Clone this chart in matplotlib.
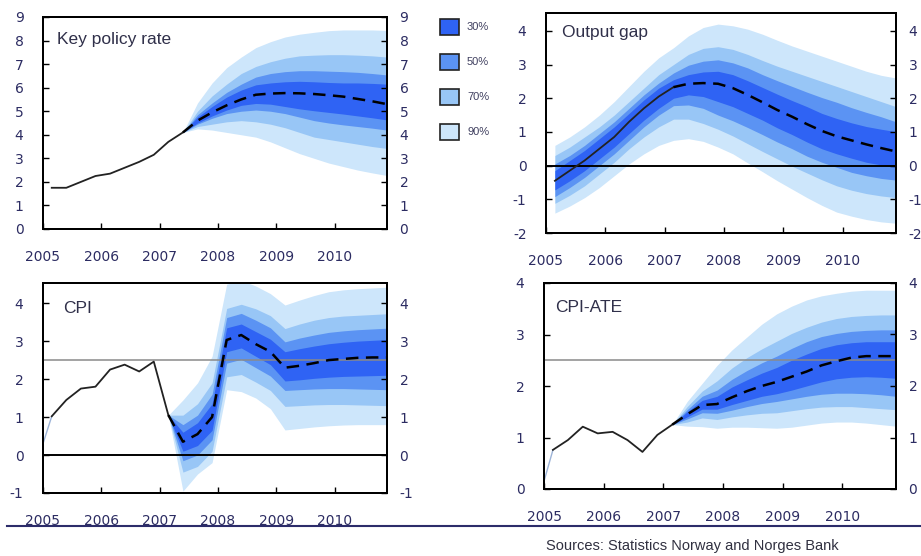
import numpy as np
import matplotlib
matplotlib.use("Agg")
import matplotlib.pyplot as plt
from matplotlib.patches import Rectangle

plt.rcParams['font.family'] = ['DejaVu Sans']
plt.rcParams['axes.unicode_minus'] = False

# ---------------- data ----------------
years = [2005, 2006, 2007, 2008, 2009, 2010]
band_labels = ["30%", "50%", "70%", "90%"]

# Key policy rate: history 2005Q1-2007Q2, forecast 2007Q2-2010Q4
rate_hist = [1.75, 1.75, 2.0, 2.25, 2.35, 2.6, 2.85, 3.15, 3.7, 4.1]
rate_fc = [4.1, 4.6, 4.95, 5.25, 5.5, 5.7, 5.75, 5.77, 5.76, 5.73, 5.68, 5.62, 5.52, 5.42, 5.3]
rate_u90 = [4.1, 5.35, 6.2, 6.85, 7.3, 7.7, 7.95, 8.15, 8.27, 8.35, 8.42, 8.45, 8.45, 8.45, 8.43]
rate_u70 = [4.1, 5.0, 5.65, 6.15, 6.6, 6.9, 7.1, 7.25, 7.35, 7.38, 7.4, 7.4, 7.38, 7.35, 7.3]
rate_u50 = [4.1, 4.85, 5.35, 5.8, 6.15, 6.45, 6.6, 6.68, 6.72, 6.72, 6.7, 6.68, 6.65, 6.6, 6.54]
rate_u30 = [4.1, 4.75, 5.2, 5.6, 5.9, 6.12, 6.2, 6.25, 6.27, 6.25, 6.22, 6.2, 6.2, 6.18, 6.15]
rate_l30 = [4.1, 4.5, 4.8, 5.05, 5.25, 5.33, 5.3, 5.2, 5.1, 5.02, 4.95, 4.88, 4.8, 4.72, 4.63]
rate_l50 = [4.1, 4.45, 4.7, 4.9, 5.0, 5.05, 5.0, 4.9, 4.75, 4.6, 4.5, 4.42, 4.35, 4.28, 4.2]
rate_l70 = [4.1, 4.35, 4.45, 4.55, 4.6, 4.55, 4.45, 4.3, 4.1, 3.9, 3.8, 3.7, 3.6, 3.5, 3.42]
rate_l90 = [4.1, 4.25, 4.2, 4.1, 4.0, 3.9, 3.7, 3.45, 3.2, 3.0, 2.8, 2.65, 2.5, 2.38, 2.27]

# Output gap: 2005Q1-2010Q4 (history to 2007Q1)
gap_c = [-0.45, -0.15, 0.15, 0.5, 0.85, 1.3, 1.7, 2.05, 2.33, 2.43, 2.45, 2.43,
         2.3, 2.1, 1.88, 1.65, 1.45, 1.23, 1.03, 0.87, 0.75, 0.63, 0.52, 0.42]
gap_u90 = [0.6, 0.85, 1.15, 1.5, 1.9, 2.35, 2.8, 3.2, 3.5, 3.85, 4.1, 4.2,
           4.15, 4.05, 3.9, 3.72, 3.55, 3.4, 3.25, 3.1, 2.95, 2.8, 2.68, 2.6]
gap_u70 = [0.3, 0.55, 0.85, 1.15, 1.5, 1.9, 2.3, 2.7, 3.0, 3.3, 3.48, 3.53,
           3.45, 3.3, 3.12, 2.95, 2.8, 2.65, 2.5, 2.35, 2.2, 2.05, 1.9, 1.75]
gap_u50 = [0.05, 0.3, 0.6, 0.95, 1.3, 1.7, 2.1, 2.45, 2.75, 2.98, 3.1, 3.14,
           3.05, 2.9, 2.7, 2.52, 2.35, 2.18, 2.02, 1.88, 1.72, 1.58, 1.45, 1.3]
gap_u30 = [-0.15, 0.15, 0.45, 0.8, 1.15, 1.55, 1.95, 2.3, 2.55, 2.7, 2.78, 2.8,
           2.7, 2.52, 2.32, 2.12, 1.93, 1.75, 1.55, 1.4, 1.27, 1.16, 1.08, 1.01]
gap_l30 = [-0.72, -0.45, -0.15, 0.2, 0.55, 0.95, 1.35, 1.7, 2.0, 2.1, 2.05, 1.9,
           1.75, 1.55, 1.35, 1.12, 0.92, 0.7, 0.5, 0.35, 0.22, 0.1, 0.02, -0.05]
gap_l50 = [-0.92, -0.65, -0.35, 0.0, 0.35, 0.75, 1.15, 1.5, 1.78, 1.8, 1.7, 1.5,
           1.33, 1.13, 0.92, 0.7, 0.5, 0.28, 0.1, -0.05, -0.2, -0.3, -0.38, -0.43]
gap_l70 = [-1.12, -0.88, -0.6, -0.25, 0.1, 0.5, 0.85, 1.15, 1.38, 1.38, 1.25, 1.08,
           0.88, 0.65, 0.42, 0.2, -0.02, -0.22, -0.42, -0.6, -0.73, -0.83, -0.9, -0.95]
gap_l90 = [-1.41, -1.2, -0.95, -0.65, -0.3, 0.05, 0.35, 0.6, 0.75, 0.8, 0.72, 0.55,
           0.35, 0.08, -0.18, -0.45, -0.7, -0.95, -1.18, -1.38, -1.5, -1.6, -1.67, -1.71]

# CPI: start value at Jan 2005, history 2005Q1-2007Q1, forecast 2007Q1-2010Q4
cpi_start = 0.3
cpi_hist = [1.02, 1.45, 1.75, 1.8, 2.25, 2.38, 2.2, 2.46, 1.05]
cpi_fc = [1.05, 0.35, 0.55, 1.0, 3.03, 3.16, 2.92, 2.72, 2.3, 2.35, 2.42, 2.5, 2.53, 2.56, 2.57, 2.57]
cpi_u90 = [1.05, 1.45, 1.9, 2.6, 4.5, 4.6, 4.45, 4.25, 3.95, 4.08, 4.2, 4.3, 4.35, 4.38, 4.4, 4.42]
cpi_u70 = [1.05, 1.05, 1.35, 1.9, 3.86, 3.97, 3.85, 3.67, 3.33, 3.45, 3.55, 3.62, 3.66, 3.68, 3.7, 3.72]
cpi_u50 = [1.05, 0.8, 1.05, 1.6, 3.62, 3.73, 3.55, 3.35, 2.98, 3.08, 3.16, 3.23, 3.27, 3.3, 3.32, 3.34]
cpi_u30 = [1.05, 0.6, 0.85, 1.35, 3.35, 3.45, 3.25, 3.05, 2.72, 2.8, 2.87, 2.93, 2.97, 3.0, 3.02, 3.04]
cpi_l30 = [1.05, 0.1, 0.25, 0.65, 2.72, 2.82, 2.6, 2.38, 1.95, 1.98, 2.02, 2.05, 2.07, 2.08, 2.09, 2.1]
cpi_l50 = [1.05, -0.15, 0.0, 0.4, 2.42, 2.52, 2.3, 2.08, 1.7, 1.72, 1.74, 1.75, 1.75, 1.74, 1.73, 1.72]
cpi_l70 = [1.05, -0.45, -0.3, 0.1, 2.06, 2.12, 1.92, 1.7, 1.28, 1.3, 1.32, 1.33, 1.33, 1.32, 1.31, 1.3]
cpi_l90 = [1.05, -0.95, -0.5, -0.2, 1.72, 1.67, 1.5, 1.22, 0.66, 0.7, 0.74, 0.77, 0.79, 0.8, 0.8, 0.8]

# CPI-ATE
ate_start = 0.15
ate_hist = [0.76, 0.95, 1.21, 1.08, 1.11, 0.95, 0.72, 1.05, 1.25]
ate_fc = [1.25, 1.45, 1.63, 1.65, 1.78, 1.9, 2.0, 2.08, 2.18, 2.28, 2.4, 2.48, 2.55, 2.58, 2.58, 2.58]
ate_u90 = [1.25, 1.7, 2.05, 2.4, 2.7, 2.95, 3.2, 3.4, 3.55, 3.67, 3.75, 3.8, 3.84, 3.86, 3.86, 3.86]
ate_u70 = [1.25, 1.6, 1.9, 2.1, 2.35, 2.55, 2.72, 2.87, 3.02, 3.14, 3.24, 3.31, 3.35, 3.37, 3.38, 3.38]
ate_u50 = [1.25, 1.54, 1.8, 1.92, 2.13, 2.3, 2.45, 2.58, 2.73, 2.86, 2.96, 3.02, 3.06, 3.08, 3.09, 3.09]
ate_u30 = [1.25, 1.5, 1.72, 1.8, 1.98, 2.12, 2.25, 2.36, 2.5, 2.62, 2.73, 2.8, 2.84, 2.86, 2.86, 2.86]
ate_l30 = [1.25, 1.4, 1.55, 1.55, 1.64, 1.72, 1.8, 1.85, 1.92, 2.0, 2.08, 2.14, 2.17, 2.18, 2.17, 2.15]
ate_l50 = [1.25, 1.36, 1.48, 1.47, 1.53, 1.6, 1.66, 1.7, 1.75, 1.8, 1.84, 1.86, 1.86, 1.85, 1.83, 1.8]
ate_l70 = [1.25, 1.3, 1.38, 1.35, 1.4, 1.44, 1.47, 1.48, 1.52, 1.56, 1.59, 1.6, 1.6, 1.58, 1.56, 1.54]
ate_l90 = [1.25, 1.22, 1.21, 1.18, 1.2, 1.2, 1.19, 1.18, 1.2, 1.24, 1.28, 1.3, 1.3, 1.28, 1.25, 1.22]

inflation_target = 2.5

# ---------------- style ----------------
band_colors = {"90%": "#cde6fb", "70%": "#98c6f6", "50%": "#5b93f3", "30%": "#2f63f4"}
navy = "#2c2c62"
title_col = "#30304a"


def qpos(year, q, n):
    return [year + 0.25 * (q + i) - 0.1 for i in range(n)]


W, H = 921, 556
fig = plt.figure(figsize=(W / 100, H / 100), dpi=100)


def make_ax(left, top, right, bottom):
    return fig.add_axes([left / W, 1 - bottom / H, (right - left) / W, (bottom - top) / H])


def style(ax, ylim, yticks, title, tx, ty):
    ax.set_xlim(2005, 2010.9)
    ax.set_ylim(*ylim)
    ax.set_xticks(years)
    ax.set_xticklabels([str(y) for y in years])
    ax.set_yticks(yticks)
    ax.set_yticklabels([str(t) for t in yticks])
    ax.tick_params(axis='both', direction='in', length=4, width=1, colors='black',
                   labelcolor=navy, labelsize=10)
    ax.tick_params(axis='y', pad=14)
    ax.tick_params(axis='x', pad=15)
    for s in ax.spines.values():
        s.set_linewidth(1.4)
    ax2 = ax.twinx()
    ax2.set_ylim(*ylim)
    ax2.set_yticks(yticks)
    ax2.set_yticklabels([str(t) for t in yticks])
    ax2.tick_params(axis='y', direction='in', length=4, width=1, labelcolor=navy,
                    labelsize=10, pad=9)
    for s in ax2.spines.values():
        s.set_linewidth(1.4)
    ax.text(tx, ty, title, transform=ax.transAxes, fontsize=12.5, color=title_col,
            family='Liberation Sans', va='center', ha='left')
    return ax2


def fan(ax, x, bands):
    for lab in ["90%", "70%", "50%", "30%"]:
        lo, hi = bands[lab]
        ax.fill_between(x, lo, hi, color=band_colors[lab], lw=0, zorder=1)


dash = dict(color='black', lw=1.8, ls=(0, (5, 3)), zorder=4)
solid = dict(color='#222222', lw=1.3, zorder=4)

# ---- Panel 1: Key policy rate
ax1 = make_ax(43, 17, 387, 229)
x_hist = qpos(2005, 1, len(rate_hist))
x_fc = qpos(2007, 2, len(rate_fc))
fan(ax1, x_fc, {"90%": (rate_l90, rate_u90), "70%": (rate_l70, rate_u70),
                "50%": (rate_l50, rate_u50), "30%": (rate_l30, rate_u30)})
ax1.plot(x_hist, rate_hist, **solid)
ax1.plot(x_fc, rate_fc, **dash)
style(ax1, (0, 9), list(range(0, 10)), "Key policy rate", 0.04, 0.893)

# ---- Panel 2: Output gap
ax2 = make_ax(546, 13, 896, 233)
x_all = qpos(2005, 1, len(gap_c))
fan(ax2, x_all, {"90%": (gap_l90, gap_u90), "70%": (gap_l70, gap_u70),
                 "50%": (gap_l50, gap_u50), "30%": (gap_l30, gap_u30)})
ax2.axhline(0, color='black', lw=1.4, zorder=3)
ax2.plot(x_all[:9], gap_c[:9], **solid)
ax2.plot(x_all[8:], gap_c[8:], **dash)
style(ax2, (-2, 4.53), list(range(-2, 5)), "Output gap", 0.045, 0.91)

# ---- Panel 3: CPI
ax3 = make_ax(43, 283, 387, 493)
xh = qpos(2005, 1, len(cpi_hist))
xf = qpos(2007, 1, len(cpi_fc))
fan(ax3, xf, {"90%": (cpi_l90, cpi_u90), "70%": (cpi_l70, cpi_u70),
              "50%": (cpi_l50, cpi_u50), "30%": (cpi_l30, cpi_u30)})
ax3.axhline(0, color='black', lw=1.4, zorder=3)
ax3.axhline(inflation_target, color='#8a8a8a', lw=1.1, zorder=3)
ax3.plot([2005, xh[0]], [cpi_start, cpi_hist[0]], color='#9db4d8', lw=1.0, zorder=4)
ax3.plot(xh, cpi_hist, **solid)
ax3.plot(xf, cpi_fc, **dash)
style(ax3, (-1, 4.53), list(range(-1, 5)), "CPI", 0.058, 0.88)

# ---- Panel 4: CPI-ATE
ax4 = make_ax(544, 283, 896, 489)
xh = qpos(2005, 1, len(ate_hist))
xf = qpos(2007, 1, len(ate_fc))
fan(ax4, xf, {"90%": (ate_l90, ate_u90), "70%": (ate_l70, ate_u70),
              "50%": (ate_l50, ate_u50), "30%": (ate_l30, ate_u30)})
ax4.axhline(inflation_target, color='#8a8a8a', lw=1.1, zorder=3)
ax4.plot([2005, xh[0]], [ate_start, ate_hist[0]], color='#9db4d8', lw=1.0, zorder=4)
ax4.plot(xh, ate_hist, **solid)
ax4.plot(xf, ate_fc, **dash)
style(ax4, (0, 4), list(range(0, 5)), "CPI-ATE", 0.032, 0.88)

# ---- Legend (manual)
for i, lab in enumerate(band_labels):
    top = 19 + i * 35
    fig.patches.append(Rectangle((440 / W, 1 - (top + 16) / H), 19 / W, 16 / H,
                                 transform=fig.transFigure, facecolor=band_colors[lab],
                                 edgecolor='#222222', lw=1.2))
    fig.text(467 / W, 1 - (top + 8) / H, lab, fontsize=8, color='#404060',
             va='center', ha='left', family='Liberation Sans')

# ---- Separator line and source
fig.add_artist(plt.Line2D([7 / W, 1.0], [1 - 525.5 / H, 1 - 525.5 / H],
                          transform=fig.transFigure, color='#2c2c6a', lw=1.5))
fig.text(692 / W, 1 - 546 / H, "Sources: Statistics Norway and Norges Bank",
         fontsize=10.5, color='#303040', ha='center', va='center', family='Liberation Sans')

fig.savefig("out.png", dpi=100)
